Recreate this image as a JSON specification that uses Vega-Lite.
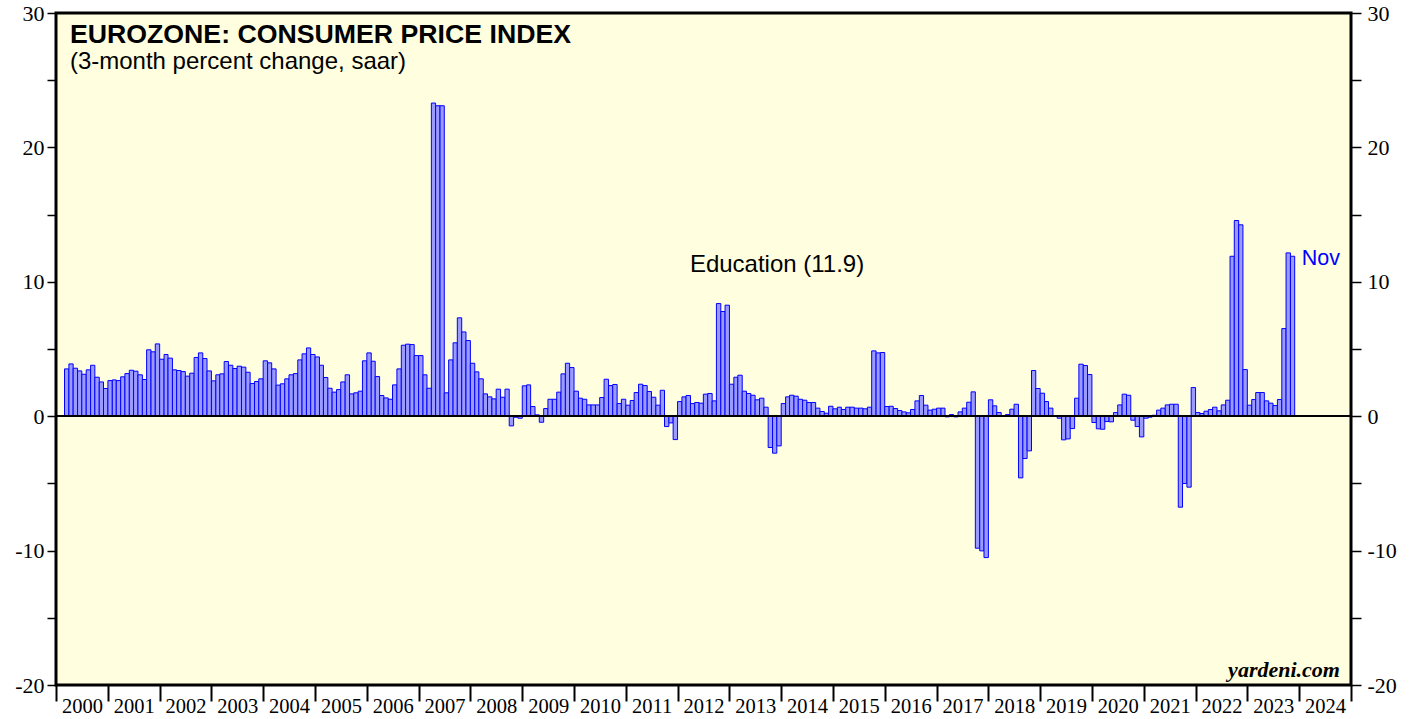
{
"$schema": "https://vega.github.io/schema/vega-lite/v6.json",
"width": 1295, "height": 672,
"autosize": {"type": "none"},
"padding": {"left": 56, "top": 13, "right": 68, "bottom": 34},
"background": "white",
"config": {"view": {"stroke": "black", "strokeWidth": 3, "fill": "#FFFFE0"}, "axis": {"grid": false, "domain": false}},
"data": {"values": [
{"d":"2000-03","v":3.52},{"d":"2000-04","v":3.89},{"d":"2000-05","v":3.57},{"d":"2000-06","v":3.37},{"d":"2000-07","v":3.12},{"d":"2000-08","v":3.45},{"d":"2000-09","v":3.79},{"d":"2000-10","v":2.90},{"d":"2000-11","v":2.55},{"d":"2000-12","v":2.06},
{"d":"2001-01","v":2.65},{"d":"2001-02","v":2.70},{"d":"2001-03","v":2.65},{"d":"2001-04","v":2.93},{"d":"2001-05","v":3.17},{"d":"2001-06","v":3.42},{"d":"2001-07","v":3.35},{"d":"2001-08","v":3.08},{"d":"2001-09","v":2.73},{"d":"2001-10","v":4.94},{"d":"2001-11","v":4.79},{"d":"2001-12","v":5.38},
{"d":"2002-01","v":4.24},{"d":"2002-02","v":4.59},{"d":"2002-03","v":4.32},{"d":"2002-04","v":3.45},{"d":"2002-05","v":3.40},{"d":"2002-06","v":3.32},{"d":"2002-07","v":2.98},{"d":"2002-08","v":3.20},{"d":"2002-09","v":4.37},{"d":"2002-10","v":4.71},{"d":"2002-11","v":4.29},{"d":"2002-12","v":3.37},
{"d":"2003-01","v":2.63},{"d":"2003-02","v":3.08},{"d":"2003-03","v":3.15},{"d":"2003-04","v":4.07},{"d":"2003-05","v":3.79},{"d":"2003-06","v":3.55},{"d":"2003-07","v":3.72},{"d":"2003-08","v":3.65},{"d":"2003-09","v":3.27},{"d":"2003-10","v":2.43},{"d":"2003-11","v":2.58},{"d":"2003-12","v":2.78},
{"d":"2004-01","v":4.12},{"d":"2004-02","v":3.97},{"d":"2004-03","v":3.52},{"d":"2004-04","v":2.31},{"d":"2004-05","v":2.41},{"d":"2004-06","v":2.78},{"d":"2004-07","v":3.08},{"d":"2004-08","v":3.17},{"d":"2004-09","v":4.19},{"d":"2004-10","v":4.64},{"d":"2004-11","v":5.08},{"d":"2004-12","v":4.59},
{"d":"2005-01","v":4.41},{"d":"2005-02","v":3.79},{"d":"2005-03","v":2.88},{"d":"2005-04","v":2.08},{"d":"2005-05","v":1.79},{"d":"2005-06","v":1.98},{"d":"2005-07","v":2.55},{"d":"2005-08","v":3.08},{"d":"2005-09","v":1.66},{"d":"2005-10","v":1.74},{"d":"2005-11","v":1.86},{"d":"2005-12","v":4.12},
{"d":"2006-01","v":4.71},{"d":"2006-02","v":4.09},{"d":"2006-03","v":2.95},{"d":"2006-04","v":1.54},{"d":"2006-05","v":1.36},{"d":"2006-06","v":1.26},{"d":"2006-07","v":2.33},{"d":"2006-08","v":3.52},{"d":"2006-09","v":5.28},{"d":"2006-10","v":5.36},{"d":"2006-11","v":5.33},{"d":"2006-12","v":4.51},
{"d":"2007-01","v":4.51},{"d":"2007-02","v":3.08},{"d":"2007-03","v":2.08},{"d":"2007-04","v":23.3},{"d":"2007-05","v":23.1},{"d":"2007-06","v":23.1},{"d":"2007-07","v":1.74},{"d":"2007-08","v":4.19},{"d":"2007-09","v":5.46},{"d":"2007-10","v":7.32},{"d":"2007-11","v":6.27},{"d":"2007-12","v":5.63},
{"d":"2008-01","v":3.94},{"d":"2008-02","v":3.30},{"d":"2008-03","v":2.78},{"d":"2008-04","v":1.66},{"d":"2008-05","v":1.44},{"d":"2008-06","v":1.29},{"d":"2008-07","v":2.01},{"d":"2008-08","v":1.41},{"d":"2008-09","v":2.01},{"d":"2008-10","v":-0.72},{"d":"2008-11","v":-0.08},{"d":"2008-12","v":-0.15},
{"d":"2009-01","v":2.26},{"d":"2009-02","v":2.33},{"d":"2009-03","v":0.72},{"d":"2009-04","v":0.10},{"d":"2009-05","v":-0.45},{"d":"2009-06","v":0.57},{"d":"2009-07","v":1.26},{"d":"2009-08","v":1.26},{"d":"2009-09","v":1.79},{"d":"2009-10","v":3.15},{"d":"2009-11","v":3.94},{"d":"2009-12","v":3.62},
{"d":"2010-01","v":1.86},{"d":"2010-02","v":1.34},{"d":"2010-03","v":1.26},{"d":"2010-04","v":0.84},{"d":"2010-05","v":0.84},{"d":"2010-06","v":0.84},{"d":"2010-07","v":1.39},{"d":"2010-08","v":2.75},{"d":"2010-09","v":2.28},{"d":"2010-10","v":2.36},{"d":"2010-11","v":0.94},{"d":"2010-12","v":1.26},
{"d":"2011-01","v":0.82},{"d":"2011-02","v":1.17},{"d":"2011-03","v":1.76},{"d":"2011-04","v":2.38},{"d":"2011-05","v":2.28},{"d":"2011-06","v":1.84},{"d":"2011-07","v":1.41},{"d":"2011-08","v":0.82},{"d":"2011-09","v":1.93},{"d":"2011-10","v":-0.77},{"d":"2011-11","v":-0.50},{"d":"2011-12","v":-1.74},
{"d":"2012-01","v":1.09},{"d":"2012-02","v":1.44},{"d":"2012-03","v":1.54},{"d":"2012-04","v":0.94},{"d":"2012-05","v":1.02},{"d":"2012-06","v":0.97},{"d":"2012-07","v":1.64},{"d":"2012-08","v":1.69},{"d":"2012-09","v":1.14},{"d":"2012-10","v":8.38},{"d":"2012-11","v":7.79},{"d":"2012-12","v":8.26},
{"d":"2013-01","v":2.38},{"d":"2013-02","v":2.90},{"d":"2013-03","v":3.05},{"d":"2013-04","v":1.86},{"d":"2013-05","v":1.69},{"d":"2013-06","v":1.56},{"d":"2013-07","v":1.22},{"d":"2013-08","v":1.34},{"d":"2013-09","v":0.67},{"d":"2013-10","v":-2.33},{"d":"2013-11","v":-2.75},{"d":"2013-12","v":-2.21},
{"d":"2014-01","v":0.94},{"d":"2014-02","v":1.44},{"d":"2014-03","v":1.56},{"d":"2014-04","v":1.49},{"d":"2014-05","v":1.26},{"d":"2014-06","v":1.19},{"d":"2014-07","v":1.02},{"d":"2014-08","v":1.02},{"d":"2014-09","v":0.60},{"d":"2014-10","v":0.35},{"d":"2014-11","v":0.22},{"d":"2014-12","v":0.74},
{"d":"2015-01","v":0.55},{"d":"2015-02","v":0.67},{"d":"2015-03","v":0.50},{"d":"2015-04","v":0.67},{"d":"2015-05","v":0.67},{"d":"2015-06","v":0.60},{"d":"2015-07","v":0.60},{"d":"2015-08","v":0.55},{"d":"2015-09","v":0.67},{"d":"2015-10","v":4.86},{"d":"2015-11","v":4.71},{"d":"2015-12","v":4.74},
{"d":"2016-01","v":0.72},{"d":"2016-02","v":0.74},{"d":"2016-03","v":0.57},{"d":"2016-04","v":0.42},{"d":"2016-05","v":0.32},{"d":"2016-06","v":0.25},{"d":"2016-07","v":0.50},{"d":"2016-08","v":1.14},{"d":"2016-09","v":1.54},{"d":"2016-10","v":0.82},{"d":"2016-11","v":0.45},{"d":"2016-12","v":0.52},
{"d":"2017-01","v":0.60},{"d":"2017-02","v":0.60},{"d":"2017-03","v":-0.05},{"d":"2017-04","v":0.12},{"d":"2017-05","v":-0.05},{"d":"2017-06","v":0.32},{"d":"2017-07","v":0.60},{"d":"2017-08","v":1.04},{"d":"2017-09","v":1.81},{"d":"2017-10","v":-9.82},{"d":"2017-11","v":-10.02},{"d":"2017-12","v":-10.52},
{"d":"2018-01","v":1.22},{"d":"2018-02","v":0.77},{"d":"2018-03","v":0.27},{"d":"2018-04","v":0.02},{"d":"2018-05","v":0.12},{"d":"2018-06","v":0.52},{"d":"2018-07","v":0.89},{"d":"2018-08","v":-4.59},{"d":"2018-09","v":-3.15},{"d":"2018-10","v":-2.58},{"d":"2018-11","v":3.40},{"d":"2018-12","v":2.06},
{"d":"2019-01","v":1.71},{"d":"2019-02","v":1.09},{"d":"2019-03","v":0.60},{"d":"2019-04","v":0.05},{"d":"2019-05","v":-0.15},{"d":"2019-06","v":-1.76},{"d":"2019-07","v":-1.69},{"d":"2019-08","v":-0.92},{"d":"2019-09","v":1.34},{"d":"2019-10","v":3.87},{"d":"2019-11","v":3.77},{"d":"2019-12","v":3.10},
{"d":"2020-01","v":-0.47},{"d":"2020-02","v":-0.94},{"d":"2020-03","v":-0.97},{"d":"2020-04","v":-0.40},{"d":"2020-05","v":-0.42},{"d":"2020-06","v":0.27},{"d":"2020-07","v":0.84},{"d":"2020-08","v":1.64},{"d":"2020-09","v":1.56},{"d":"2020-10","v":-0.30},{"d":"2020-11","v":-0.77},{"d":"2020-12","v":-1.54},
{"d":"2021-01","v":-0.15},{"d":"2021-02","v":-0.07},{"d":"2021-03","v":0.07},{"d":"2021-04","v":0.45},{"d":"2021-05","v":0.60},{"d":"2021-06","v":0.84},{"d":"2021-07","v":0.89},{"d":"2021-08","v":0.89},{"d":"2021-09","v":-6.77},{"d":"2021-10","v":-5.01},{"d":"2021-11","v":-5.28},{"d":"2021-12","v":2.13},
{"d":"2022-01","v":0.27},{"d":"2022-02","v":0.20},{"d":"2022-03","v":0.37},{"d":"2022-04","v":0.50},{"d":"2022-05","v":0.67},{"d":"2022-06","v":0.40},{"d":"2022-07","v":0.84},{"d":"2022-08","v":1.19},{"d":"2022-09","v":11.9},{"d":"2022-10","v":14.56},{"d":"2022-11","v":14.24},{"d":"2022-12","v":3.47},
{"d":"2023-01","v":0.82},{"d":"2023-02","v":1.24},{"d":"2023-03","v":1.76},{"d":"2023-04","v":1.76},{"d":"2023-05","v":1.14},{"d":"2023-06","v":0.97},{"d":"2023-07","v":0.79},{"d":"2023-08","v":1.24},{"d":"2023-09","v":6.52},{"d":"2023-10","v":12.15},{"d":"2023-11","v":11.90}
]},
"layer": [
{
"transform": [{"timeUnit": "utcyearmonth", "field": "d", "as": "m"}],
"mark": {"type": "bar", "orient": "vertical", "fill": "#9A9AFF", "stroke": "#0000FF", "strokeWidth": 1},
"encoding": {
"x": {"field": "m", "type": "temporal",
"scale": {"type": "utc", "padding": 0, "domain": [{"year": 2000, "month": 1, "date": 1, "utc": true}, {"year": 2025, "month": 1, "date": 1, "utc": true}]},
"axis": {"title": null, "orient": "bottom",
"tickCount": {"interval": "year", "step": 1},
"labelExpr": "utcFormat(datum.value, '%Y') == '2025' ? '' : utcFormat(datum.value, '%Y')",
"tickSize": 16, "tickColor": "black", "tickWidth": 2,
"labelAlign": "center", "labelBaseline": "top", "labelOffset": 25.9, "labelPadding": -5,
"labelFont": "Liberation Serif", "labelFontSize": 20.5, "labelColor": "black",
"labelBound": false, "labelFlush": false, "labelOverlap": false}},
"x2": {"field": "m_end"},
"y": {"field": "v", "type": "quantitative",
"scale": {"domain": [-20, 30], "nice": false, "zero": false},
"axis": {"title": null, "orient": "left", "values": [-20,-15,-10,-5,0,5,10,15,20,25,30],
"labelExpr": "datum.value % 10 === 0 ? '' + datum.value : ''",
"tickSize": 9, "tickColor": "black", "tickWidth": 1.5, "labelPadding": 3,
"labelFont": "Liberation Serif", "labelFontSize": 22, "labelColor": "black", "labelOverlap": false, "labelBound": false, "labelFlush": false}}
}
},
{
"mark": {"type": "rule", "color": "black", "strokeWidth": 1.5},
"encoding": {
"y": {"datum": 0, "type": "quantitative",
"axis": {"title": null, "orient": "right", "values": [-20,-15,-10,-5,0,5,10,15,20,25,30],
"labelExpr": "datum.value % 10 === 0 ? '' + datum.value : ''",
"tickSize": 10, "tickColor": "black", "tickWidth": 1.5, "labelPadding": 6,
"labelFont": "Liberation Serif", "labelFontSize": 22, "labelColor": "black", "labelOverlap": false, "labelBound": false, "labelFlush": false}}
}
},
{
"data": {"values": [{"t": "EUROZONE: CONSUMER PRICE INDEX"}]},
"mark": {"type": "text", "align": "left", "baseline": "alphabetic", "font": "Liberation Sans", "fontSize": 26.7, "fontWeight": "bold", "color": "black"},
"encoding": {
"x": {"datum": {"year": 2000, "month": 4, "date": 8, "utc": true}, "type": "temporal"},
"y": {"datum": 27.8, "type": "quantitative", "axis": null},
"text": {"field": "t"}
}
},
{
"data": {"values": [{"t": "(3-month percent change, saar)"}]},
"mark": {"type": "text", "align": "left", "baseline": "alphabetic", "font": "Liberation Sans", "fontSize": 24, "color": "black"},
"encoding": {
"x": {"datum": {"year": 2000, "month": 4, "date": 8, "utc": true}, "type": "temporal"},
"y": {"datum": 25.83, "type": "quantitative", "axis": null},
"text": {"field": "t"}
}
},
{
"data": {"values": [{"t": "Education (11.9)"}]},
"mark": {"type": "text", "align": "left", "baseline": "alphabetic", "font": "Liberation Sans", "fontSize": 24, "color": "black"},
"encoding": {
"x": {"datum": {"year": 2012, "month": 3, "date": 28, "utc": true}, "type": "temporal"},
"y": {"datum": 10.73, "type": "quantitative", "axis": null},
"text": {"field": "t"}
}
},
{
"data": {"values": [{"t": "Nov"}]},
"mark": {"type": "text", "align": "left", "baseline": "alphabetic", "font": "Liberation Sans", "fontSize": 21.5, "color": "#0000FF"},
"encoding": {
"x": {"datum": {"year": 2024, "month": 1, "date": 20, "utc": true}, "type": "temporal"},
"y": {"datum": 11.25, "type": "quantitative", "axis": null},
"text": {"field": "t"}
}
},
{
"data": {"values": [{"t": "yardeni.com"}]},
"mark": {"type": "text", "align": "right", "baseline": "alphabetic", "font": "Liberation Serif", "fontSize": 22, "fontWeight": "bold", "fontStyle": "italic", "color": "black"},
"encoding": {
"x": {"datum": {"year": 2024, "month": 10, "date": 15, "utc": true}, "type": "temporal"},
"y": {"datum": -19.4, "type": "quantitative", "axis": null},
"text": {"field": "t"}
}
}
],
"resolve": {"axis": {"y": "independent"}}
}
